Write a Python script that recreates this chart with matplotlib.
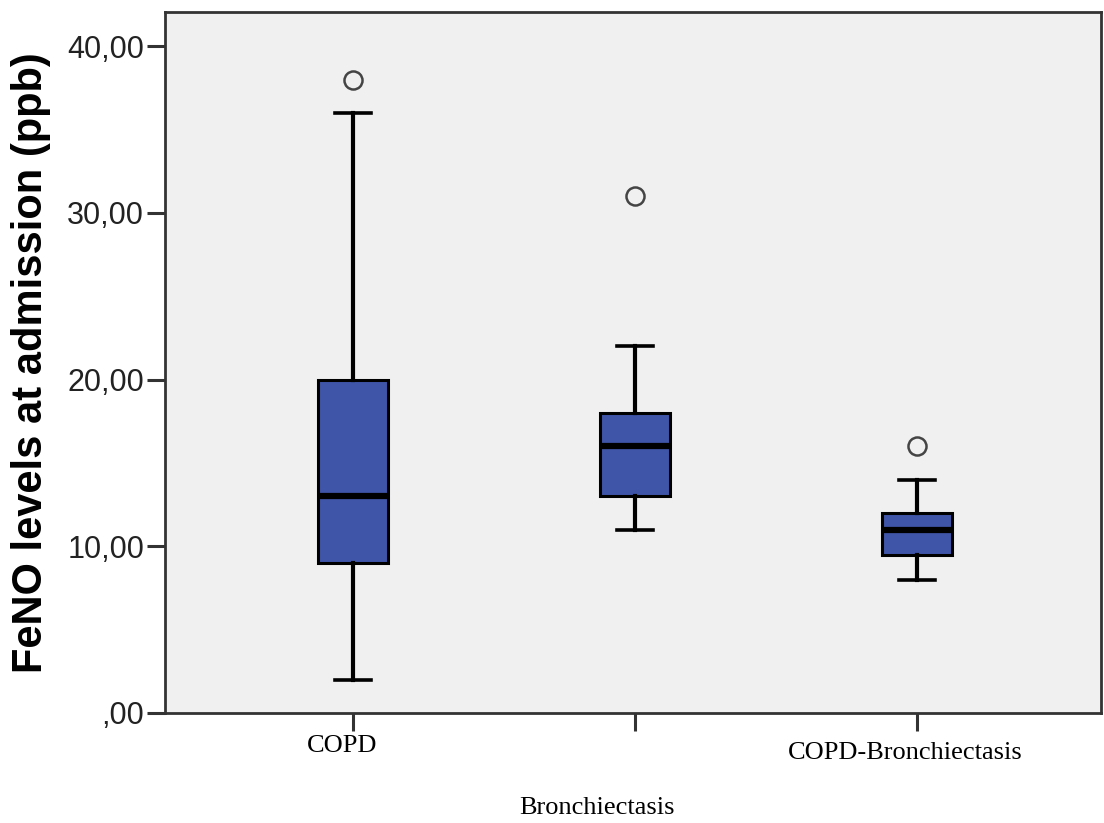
import matplotlib
matplotlib.use('Agg')
import matplotlib.pyplot as plt
from matplotlib.transforms import blended_transform_factory

groups = ['COPD', 'Bronchiectasis', 'COPD-Bronchiectasis']
whislo = [2, 11, 8]
q1 = [9, 13, 9.5]
med = [13, 16, 11]
q3 = [20, 18, 12]
whishi = [36, 22, 14]
fliers = [[38], [31], [16]]

yticks = [0, 10, 20, 30, 40]
ytick_labels = [',00', '10,00', '20,00', '30,00', '40,00']

stats = []
for i in range(3):
    stats.append(dict(label=groups[i], whislo=whislo[i], q1=q1[i], med=med[i],
                      q3=q3[i], whishi=whishi[i], fliers=fliers[i]))

fig = plt.figure(figsize=(11.04, 8.23), dpi=100)
ax = fig.add_axes([0.1495, 0.1337, 0.8478, 0.8517])
ax.set_facecolor('#f0f0f0')

pos = [1, 2, 3]
ax.bxp(stats, positions=pos, widths=0.25, patch_artist=True,
       boxprops=dict(facecolor='#3f55a8', edgecolor='black', linewidth=2.2),
       medianprops=dict(color='black', linewidth=4.5),
       whiskerprops=dict(color='black', linewidth=3),
       capprops=dict(color='black', linewidth=2.6),
       capwidths=0.13,
       flierprops=dict(marker='o', markerfacecolor='none', markeredgecolor='#444444',
                       markersize=13, markeredgewidth=1.8))

ax.set_xlim(0.333, 3.653)
ax.set_ylim(0, 42.05)

ax.set_yticks(yticks)
ax.set_yticklabels(ytick_labels, family='Liberation Sans', fontsize=22, color='#222222')
ax.set_xticks(pos)
ax.set_xticklabels(['', '', ''])
ax.tick_params(axis='both', length=13, width=2.2, color='#333333', direction='out')
ax.tick_params(axis='y', pad=2)

for s in ax.spines.values():
    s.set_color('#333333')
    s.set_linewidth(2)

# category labels (SPSS-style staggered)
tr = blended_transform_factory(ax.transData, ax.transAxes)
lab_x = [0.96, 1.865, 2.96]
lab_y = [-0.032, -0.12, -0.042]
for i in range(3):
    ax.text(lab_x[i], lab_y[i], groups[i], transform=tr, ha='center', va='top',
            family='Liberation Serif', fontsize=19, color='black')

ax.set_ylabel('FeNO levels at admission (ppb)', family='Liberation Sans',
              fontweight='bold', fontsize=30, labelpad=12)

fig.savefig('out.png', dpi=100, facecolor='white')
